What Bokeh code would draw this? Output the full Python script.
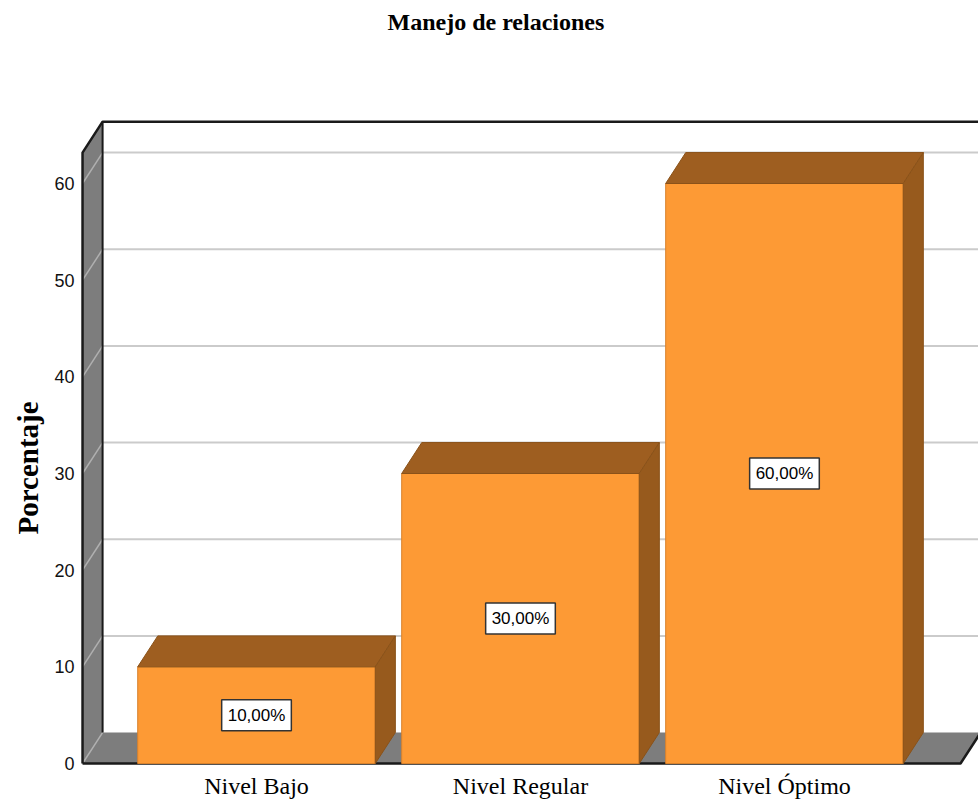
from bokeh.plotting import figure
from bokeh.models import Range1d, FixedTicker, ColumnDataSource, Title
from bokeh.core.properties import value
from bokeh.embed import file_html
from bokeh.resources import INLINE

# ---------------- data ----------------
title_text = "Manejo de relaciones"
y_title = "Porcentaje"
categories = ["Nivel Bajo", "Nivel Regular", "Nivel Óptimo"]
percentages = [10.0, 30.0, 60.0]
value_labels = ["10,00%", "30,00%", "60,00%"]
y_ticks = [0, 10, 20, 30, 40, 50, 60]

# ---------------- geometry / style ----------------
X_START, X_END = 0.3295, 3.735       # frame x range (category units)
Y_START, Y_END = -0.31, 74.38        # frame y range (percent units)
X_WALL = 0.341                       # front-left edge of the box
X_FLOOR_RIGHT = 3.667                # front-right end of the floor
Y_BOX_TOP = 63.2                     # front top of the box
DX, DY = 0.076, 3.2                  # depth offset of the 3D box
HALF = 0.45                          # half bar width

FRONT = "#FD9A35"
TOP = "#9E5E20"
SIDE = "#975A1D"
WALL = "#7D7D7D"
GRID = "#CBCBCB"
EDGE = "#1A1A1A"
SERIF = "Liberation Serif"
SANS = "Liberation Sans"

xpos = list(range(1, len(categories) + 1))

p = figure(frame_width=899, frame_height=722,
           x_range=Range1d(X_START, X_END), y_range=Range1d(Y_START, Y_END),
           output_backend="svg", toolbar_location=None,
           min_border_left=79, min_border_right=0, min_border_top=44, min_border_bottom=36,
           outline_line_color=None, background_fill_color="white", border_fill_color="white")
p.grid.visible = False

# title
p.title.text = title_text
p.title.text_font = SERIF
p.title.text_font_size = "24px"
p.title.text_font_style = "bold"
p.title.text_color = "black"
p.title.align = "left"
p.title.offset = 308
p.title.standoff = 15
p.title.vertical_align = "top"

# y axis
yax = p.yaxis[0]
yax.ticker = FixedTicker(ticks=y_ticks)
yax.axis_line_color = None
yax.major_tick_line_color = None
yax.minor_tick_line_color = None
yax.major_tick_out = 0
yax.major_label_standoff = 5
yax.major_label_text_font = SANS
yax.major_label_text_font_size = "18px"
yax.major_label_text_color = "#111111"

# y title as a left title
ytitle = Title(text=y_title, align="left", offset=232, standoff=12,
               text_font=SERIF, text_font_size="29px",
               text_font_style="bold", text_color="black", vertical_align="top")
p.add_layout(ytitle, "left")

# x axis
xax = p.xaxis[0]
xax.ticker = FixedTicker(ticks=xpos)
xax.major_label_overrides = {i: c for i, c in zip(xpos, categories)}
xax.axis_line_color = None
xax.major_tick_line_color = None
xax.minor_tick_line_color = None
xax.major_tick_out = 0
xax.major_label_standoff = 6
xax.major_label_text_font = SERIF
xax.major_label_text_font_size = "24px"
xax.major_label_text_color = "black"

x_far = X_END + 0.2

# floor
p.patch([X_WALL, X_WALL + DX, x_far, X_FLOOR_RIGHT + DX, X_FLOOR_RIGHT],
        [0, DY, DY, DY, 0], fill_color=WALL, line_color=None)
# left wall
p.patch([X_WALL, X_WALL, X_WALL + DX, X_WALL + DX],
        [0, Y_BOX_TOP, Y_BOX_TOP + DY, DY], fill_color=WALL, line_color=None)

# grid lines on back wall and left wall
back_ticks = [t for t in y_ticks if t > 0]
p.multi_line(xs=[[X_WALL + DX, x_far] for t in back_ticks],
             ys=[[t + DY, t + DY] for t in back_ticks],
             line_color=GRID, line_width=2)
p.multi_line(xs=[[X_WALL, X_WALL + DX] for t in y_ticks],
             ys=[[t, t + DY] for t in y_ticks],
             line_color="#B0B0B0", line_width=1.5)

# box edges
p.line([X_WALL, X_WALL, X_WALL + DX, x_far],
       [0, Y_BOX_TOP, Y_BOX_TOP + DY, Y_BOX_TOP + DY], line_color=EDGE, line_width=2.5)
p.line([X_WALL + DX, X_WALL + DX], [DY, Y_BOX_TOP + DY], line_color=EDGE, line_width=2)
p.line([X_WALL, X_FLOOR_RIGHT, X_FLOOR_RIGHT + DX], [0, 0, DY],
       line_color=EDGE, line_width=2.5)

# bars
src = ColumnDataSource(dict(
    x=xpos, left=[c - HALF for c in xpos], right=[c + HALF for c in xpos],
    top=percentages, mid=[v / 2 for v in percentages], lab=value_labels,
))
p.quad(left="left", right="right", bottom=0, top="top", source=src,
       fill_color=FRONT, line_color="#D9822C", line_width=1)
p.patches(xs=[[c - HALF, c - HALF + DX, c + HALF + DX, c + HALF] for c in xpos],
          ys=[[v, v + DY, v + DY, v] for v in percentages],
          fill_color=TOP, line_color="#8A5219", line_width=1)
p.patches(xs=[[c + HALF, c + HALF, c + HALF + DX, c + HALF + DX] for c in xpos],
          ys=[[0, v, v + DY, DY] for v in percentages],
          fill_color=SIDE, line_color="#8A5219", line_width=1)

# value labels
p.text(x="x", y="mid", text="lab", source=src,
       text_font=value(SANS), text_font_size=value("17px"), text_color="black",
       text_align="center", text_baseline="middle",
       background_fill_color="white", border_line_color="#333333", border_line_width=1.5,
       padding=6)

open("out.html", "w").write(file_html(p, INLINE))
